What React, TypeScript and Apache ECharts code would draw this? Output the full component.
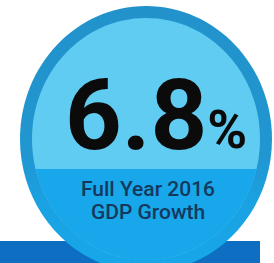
import React, { useEffect, useRef } from "react";
import * as echarts from "echarts";

const growthValue = [6.8];
const valueUnit = ["%"];
const subtitleLines = ["Full Year 2016", "GDP Growth"];

export default function App() {
  const ref = useRef<HTMLDivElement>(null);
  useEffect(() => {
    if (!ref.current) return;
    const chart = echarts.init(ref.current, null, { renderer: "svg" });
    const cx = 146;
    const cy = 139;
    const orx = 126;
    const ory = 133;
    const irx = 114;
    const iry = 121;
    const bandTop = 169;
    const s0 = Math.asin((bandTop - cy) / iry);
    const pts: number[][] = [];
    const n = 80;
    for (let i = 0; i <= n; i++) {
      const t = s0 + ((Math.PI - 2 * s0) * i) / n;
      pts.push([cx + irx * Math.cos(t), cy + iry * Math.sin(t)]);
    }
    chart.setOption({
      animation: false,
      backgroundColor: "#ffffff",
      graphic: [
        {
          type: "rect",
          shape: { x: 0, y: 241, width: 260, height: 30 },
          style: { fill: "#0d6ec2" },
        },
        {
          type: "ellipse",
          shape: { cx, cy, rx: orx, ry: ory },
          style: {
            fill: new echarts.graphic.LinearGradient(0, 0, 0, 1, [
              { offset: 0, color: "#2292cb" },
              { offset: 0.55, color: "#2196d0" },
              { offset: 0.75, color: "#1aa2e3" },
              { offset: 1, color: "#16a7ea" },
            ]),
          },
        },
        {
          type: "ellipse",
          shape: { cx, cy, rx: irx, ry: iry },
          style: { fill: "#60ccf2" },
        },
        {
          type: "polygon",
          shape: { points: pts },
          style: { fill: "#17a7ea" },
        },
        {
          type: "text",
          x: 65,
          y: 114,
          style: {
            text: "{a|" + String(growthValue[0]) + "}{b|" + valueUnit[0] + "}",
            align: "left",
            verticalAlign: "middle",
            rich: {
              a: {
                font: "bold 99px Roboto",
                lineHeight: 101,
                fill: "#0b0b0b",
                verticalAlign: "bottom",
              },
              b: {
                font: "bold 54px Roboto",
                lineHeight: 54,
                fill: "#0b0b0b",
                verticalAlign: "bottom",
                padding: [0, 0, 8, 0],
              },
            },
          },
        },
        {
          type: "text",
          x: 148,
          y: 200.5,
          style: {
            text: subtitleLines.join("\n"),
            font: "500 21px Roboto",
            lineHeight: 23,
            fill: "#15395d",
            align: "center",
            verticalAlign: "middle",
          },
        },
      ],
    });
    return () => chart.dispose();
  }, []);
  return (
    <div
      ref={ref}
      style={{ position: "fixed", left: 0, top: 0, width: 274, height: 263 }}
    />
  );
}
